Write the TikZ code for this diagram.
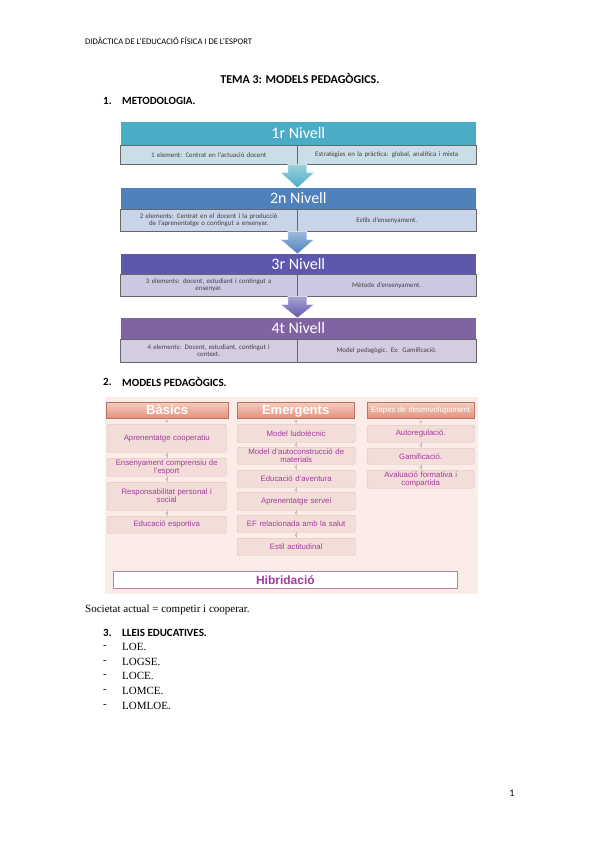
\documentclass[tikz,border=0pt]{standalone}
\usepackage{fontspec}
\setmainfont{Liberation Serif}
\newfontfamily\carl{Carlito}
\newfontfamily\ari{Liberation Sans}
\usetikzlibrary{shadings}
\definecolor{teal1}{HTML}{4BACC6}
\definecolor{teal1s}{HTML}{C9DEE6}
\definecolor{blue2}{HTML}{4F81BD}
\definecolor{blue2s}{HTML}{C8D4E7}
\definecolor{purp3}{HTML}{5E58AC}
\definecolor{purp3s}{HTML}{CBC9E1}
\definecolor{purp4}{HTML}{8064A2}
\definecolor{purp4s}{HTML}{D4CDE2}
\definecolor{pinkbg}{HTML}{FCECE8}
\definecolor{itemfill}{HTML}{F3DDD8}
\definecolor{itemedge}{HTML}{D9BDB7}
\definecolor{salmonT}{HTML}{F6CDBF}
\definecolor{salmonB}{HTML}{E2927F}
\definecolor{magtext}{HTML}{A23C9E}
\definecolor{hibedge}{HTML}{C47AB8}
\tikzset{
  lvlhead/.style={fill=#1, draw=white, line width=0.6pt, anchor=north west, inner sep=0pt,
    text=white, font=\carl\fontsize{16}{16}\selectfont},
  lvlsub/.style={fill=#1, draw=black!60, line width=0.4pt, anchor=north west, inner sep=1pt,
    align=center, text=black!75, font=\carl\fontsize{6.9}{7.4}\selectfont},
  colhead/.style={anchor=north west, inner sep=0pt, top color=salmonT, bottom color=salmonB,
    draw=salmonB!80!black, line width=0.3pt, text=white, text height=0.72*#1pt, text depth=0.1*#1pt,
    font=\ari\bfseries\fontsize{#1}{#1}\selectfont},
  item/.style={anchor=north west, inner sep=1pt, fill=itemfill, draw=itemedge, line width=0.4pt,
    rounded corners=1.5pt, align=center, text=magtext, font=\ari\fontsize{7.8}{8}\selectfont},
  conn/.style={draw=itemedge, line width=0.3pt},
  cdot/.style={circle, draw=black!35, fill=pinkbg, inner sep=0pt, minimum size=2.2pt},
  txt/.style={anchor=west, inner sep=0pt},
  secfont/.style={font=\carl\bfseries\fontsize{11}{11}\selectfont},
}
\begin{document}
\begin{tikzpicture}[x=1pt,y=-1pt]
\useasboundingbox (0,0) rectangle (599,848);
\fill[white] (0,0) rectangle (599,848);

% page header
\node[txt, font=\carl\fontsize{8.6}{8.6}\selectfont] (hdr) at (85,41) {DIDÀCTICA DE L’EDUCACIÓ FÍSICA I DE L’ESPORT};
\node[inner sep=0pt, font=\carl\bfseries\fontsize{12}{12}\selectfont] (title) at (300,79) {TEMA 3: MODELS PEDAGÒGICS.};
\node[txt, secfont] (n1) at (103,101) {1.};
\node[txt, secfont] (s1) at (122,101) {METODOLOGIA.};

% ---------- levels ----------
\newcommand\lvlblock[9]{%
  \node[lvlhead=#5, minimum width=356pt, minimum height=#3pt-#2pt] (#1h) at (120,#2) {#7};
  \node[lvlsub=#6, minimum width=177pt, minimum height=#4pt-#3pt, text width=172pt] (#1l) at (120,#3) {#8};
  \node[lvlsub=#6, minimum width=179pt, minimum height=#4pt-#3pt, text width=174pt] (#1r) at (297,#3) {#9};
}
\newcommand\lvlarrow[3]{% from node, to node, color
  \path (#1l.south east) coordinate (#1at);
  \path (#2h.north) coordinate (#2ab);
  \shade[top color=#3!55, bottom color=#3, draw=white, line width=0.4pt]
    ([xshift=-9.5pt]#1at) -- ([xshift=9.5pt]#1at) -- ([xshift=9.5pt,yshift=-8pt]#1at)
    -- ([xshift=17pt,yshift=-8pt]#1at) -- ([yshift=-1pt]#2ab -| #1at) -- ([xshift=-17pt,yshift=-8pt]#1at)
    -- ([xshift=-9.5pt,yshift=-8pt]#1at) -- cycle;
}
\lvlblock{a}{121}{145}{164}{teal1}{teal1s}{1r Nivell}{1 element: Centrat en l’actuació docent}{Estratègies en la pràctica: global, analítica i mixta}
\lvlblock{b}{187}{209}{231}{blue2}{blue2s}{2n Nivell}{2 elements: Centrat en el docent i la producció\\ de l’aprenentatge o contingut a ensenyar.}{Estils d’ensenyament.}
\lvlblock{c}{253}{274}{296}{purp3}{purp3s}{3r Nivell}{3 elements: docent, estudiant i contingut a\\ ensenyar.}{Mètode d’ensenyament.}
\lvlblock{d}{317}{339}{362}{purp4}{purp4s}{4t Nivell}{4 elements: Docent, estudiant, contingut i\\ context.}{Model pedagògic. Ex: Gamificació.}
\lvlarrow{a}{b}{teal1}
\lvlarrow{b}{c}{blue2}
\lvlarrow{c}{d}{purp3}

% ---------- models ----------
\node[txt, secfont] (n2) at (103,382) {2.};
\node[txt, secfont] (s2) at (122,382) {MODELS PEDAGÒGICS.};

\fill[pinkbg] (105,397) rectangle (478,594);

\node[colhead=13, minimum width=122pt, minimum height=16pt] (ha) at (106,402) {Bàsics};
\node[colhead=13, minimum width=117pt, minimum height=16pt] (hb) at (237,402) {Emergents};
\node[anchor=north west, inner sep=0pt, top color=salmonT, bottom color=salmonB,
    draw=salmonB!80!black, line width=0.3pt, text=white, minimum width=107pt, minimum height=16pt,
    font=\ari\fontsize{7.8}{7.8}\selectfont] (hc) at (367,402) {Etapes de desenvolupament};

\node[item, minimum width=119pt, minimum height=28pt, text width=115pt] (a1) at (107,424) {Aprenentatge cooperatiu};
\node[item, minimum width=119pt, minimum height=18pt, text width=115pt] (a2) at (107,458) {Ensenyament comprensiu de\\ l’esport};
\node[item, minimum width=119pt, minimum height=28pt, text width=115pt] (a3) at (107,482) {Responsabilitat personal i\\ social};
\node[item, minimum width=119pt, minimum height=17pt, text width=115pt] (a4) at (107,516) {Educació esportiva};

\node[item, minimum width=118pt, minimum height=18pt, text width=114pt] (b1) at (237,424) {Model ludotècnic};
\node[item, minimum width=118pt, minimum height=17pt, text width=114pt, inner sep=0pt] (b2) at (237,447) {Model d’autoconstrucció de\\ materials};
\node[item, minimum width=118pt, minimum height=17pt, text width=114pt] (b3) at (237,470) {Educació d’aventura};
\node[item, minimum width=118pt, minimum height=18pt, text width=114pt] (b4) at (237,492) {Aprenentatge servei};
\node[item, minimum width=118pt, minimum height=17pt, text width=114pt] (b5) at (237,515) {EF relacionada amb la salut};
\node[item, minimum width=118pt, minimum height=17pt, text width=114pt] (b6) at (237,538) {Estil actitudinal};

\node[item, minimum width=107pt, minimum height=17pt, text width=103pt] (c1) at (367,425) {Autoregulació.};
\node[item, minimum width=107pt, minimum height=16pt, text width=103pt] (c2) at (367,448) {Gamificació.};
\node[item, minimum width=107pt, minimum height=18pt, text width=103pt, inner sep=0pt] (c3) at (367,470) {Avaluació formativa i\\ compartida};

\foreach \u/\v in {ha/a1,a1/a2,a2/a3,a3/a4,hb/b1,b1/b2,b2/b3,b3/b4,b4/b5,b5/b6,hc/c1,c1/c2,c2/c3}
  \draw[conn] (\u.south) -- node[cdot]{} (\v.north);

\node[anchor=north west, minimum width=344pt, minimum height=17pt, inner sep=0pt, fill=white,
  draw=hibedge, line width=0.8pt, text=magtext, font=\ari\bfseries\fontsize{12}{12}\selectfont] (hib) at (113,571) {Hibridació};

% ---------- text ----------
\node[txt, font=\fontsize{11}{11}\selectfont] (soc) at (85,610) {Societat actual = competir i cooperar.};
\node[txt, secfont] (n3) at (103,633) {3.};
\node[txt, secfont] (s3) at (122,633) {LLEIS EDUCATIVES.};
\foreach \t/\yy [count=\i] in {LOE./647,LOGSE./662,LOCE./676,LOMCE./691,LOMLOE./706}{
  \node[txt, font=\fontsize{11}{11}\selectfont] (d\i) at (103,\yy) {-};
  \node[txt, font=\fontsize{11}{11}\selectfont] (l\i) at (122,\yy) {\t};
}
\node[inner sep=0pt, font=\carl\fontsize{10}{10}\selectfont] (pg) at (512,793) {1};
\end{tikzpicture}
\end{document}
